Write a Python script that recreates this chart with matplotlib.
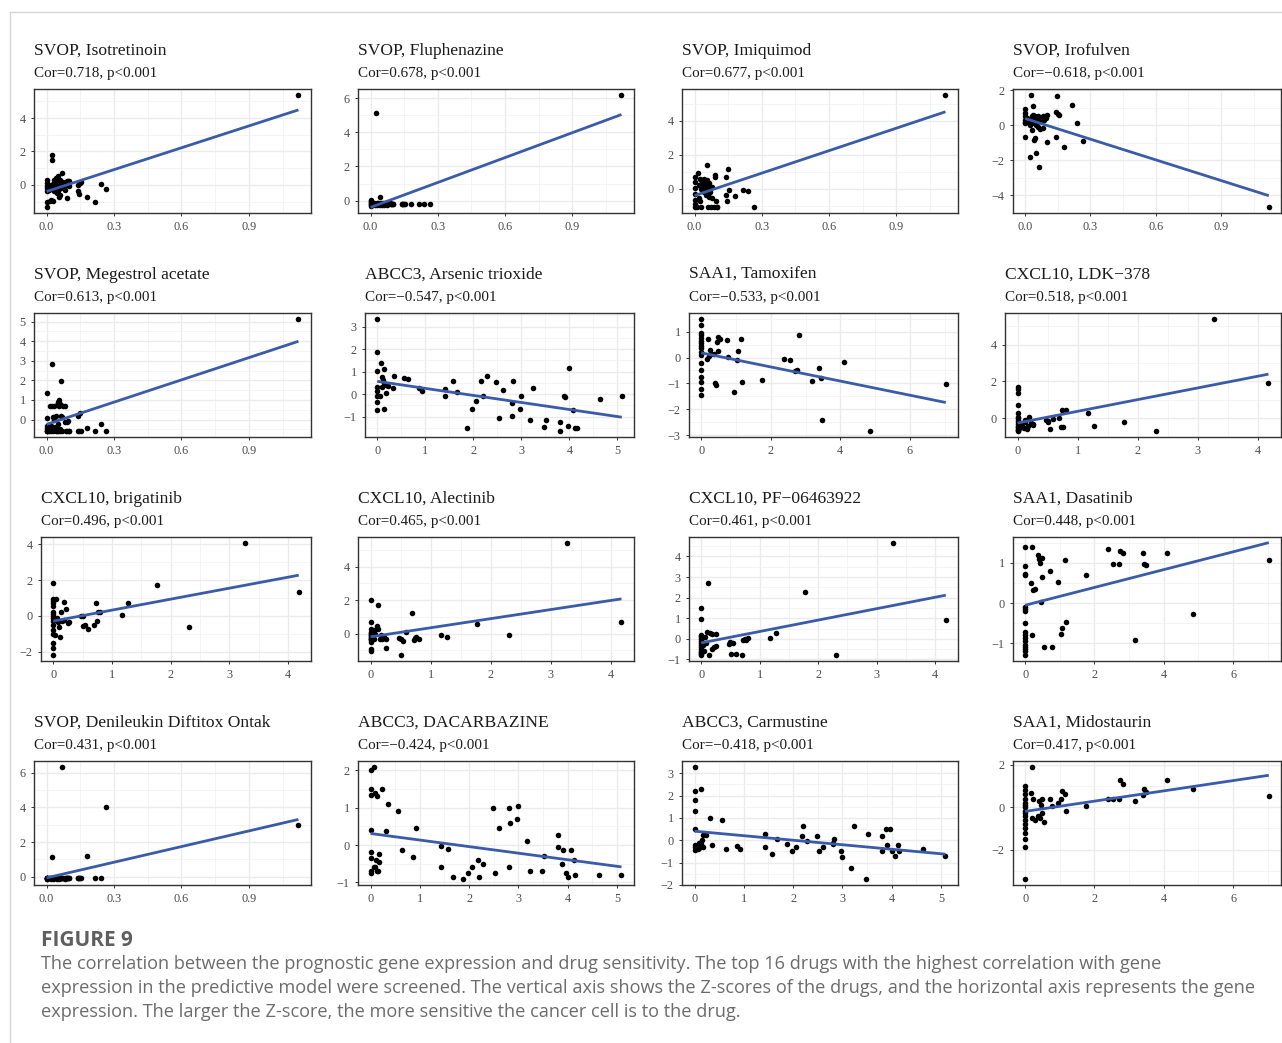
import numpy as np
import matplotlib
matplotlib.use('Agg')
import matplotlib.pyplot as plt
from matplotlib.lines import Line2D
from matplotlib.ticker import FixedLocator, AutoMinorLocator, FormatStrFormatter

# gene expression (x) shared by every drug of the same gene
svop_x = [0, 0, 0, 0, 0, 0, 0, 0.01, 0.015, 0.02, 0.02, 0.025, 0.025, 0.03, 0.03, 0.03,
          0.035, 0.035, 0.04, 0.04, 0.04, 0.045, 0.045, 0.05, 0.05, 0.05, 0.055, 0.055,
          0.06, 0.06, 0.06, 0.065, 0.065, 0.07, 0.07, 0.075, 0.08, 0.08, 0.085, 0.09, 0.09,
          0.095, 0.1, 0.1, 0.14, 0.14, 0.145, 0.15, 0.155, 0.18, 0.215, 0.24, 0.265, 1.12]
abcc3_x = [0, 0, 0, 0, 0, 0, 0, 0, 0.07, 0.14, 0.09, 0.12, 0.1, 0.15, 0.18,
           0.06, 0.14, 0.18, 0.23, 0.32, 0.35, 0.56, 0.64, 0.86, 0.93,
           1.42, 1.42, 1.58, 1.67, 1.87, 1.98, 2.06, 2.17, 2.2, 2.28,
           2.48, 2.53, 2.61, 2.81, 2.82, 2.8, 2.97, 2.99, 3.18, 3.24,
           3.47, 3.52, 3.8, 3.81, 3.88, 3.9, 3.97, 4.0, 4.07, 4.12, 4.15, 4.64, 5.09]
cxcl10_x = [0] * 16 + [0.02, 0.03, 0.05, 0.06, 0.08, 0.1, 0.12, 0.13, 0.15, 0.18, 0.19, 0.22,
                       0.25, 0.26, 0.48, 0.5, 0.51, 0.54, 0.59, 0.69, 0.72, 0.74, 0.76, 0.8,
                       1.17, 1.27, 1.77, 2.31, 3.27, 4.18]
saa1_x = [0] * 17 + [0.16, 0.19, 0.21, 0.24, 0.29, 0.38, 0.41, 0.42, 0.45, 0.48, 0.48, 0.54,
                     0.73, 0.78, 0.94, 1.03, 1.06, 1.15, 1.17, 1.76, 2.39, 2.54, 2.71, 2.74,
                     2.81, 3.18, 3.39, 3.44, 3.48, 4.1, 4.85, 7.03]

# drug sensitivity z-scores (y)
isotretinoin = [0.3, -0.1, -0.4, -1.05, -1.35, 0.1, -0.2, -0.3, -0.95, 0.0, -0.9, 1.8, 1.5, -0.2,
                0.05, -0.95, 0.3, -0.4, 0.1, -0.3, 0.4, -0.1, -0.5, 0.5, 0.0, -0.35, 0.2, -0.7,
                -0.1, 0.3, -0.6, -0.2, 0.1, 0.7, -0.05, 0.15, -0.3, 0.1, 0.0, -0.8, 0.2, 0.25,
                -0.1, 0.2, -0.35, 0.0, -0.55, 0.1, 0.15, -0.75, -1.0, 0.05, -0.25, 5.4]
fluphenazine = [0.05, -0.1, -0.2, -0.25, -0.15, 0.0, -0.3, -0.2, -0.15, -0.25, -0.2, 5.15, -0.2,
                -0.15, -0.25, -0.2, -0.2, -0.15, 0.2, -0.2, -0.25, -0.2, -0.15, -0.2, -0.25, -0.2,
                -0.2, -0.15, -0.2, -0.25, -0.2, -0.2, -0.15, -0.2, -0.2, -0.25, -0.2, -0.2, -0.15,
                -0.2, -0.2, -0.2, -0.2, -0.2, -0.2, -0.2, -0.2, -0.2, -0.2, -0.2, -0.2, -0.2, -0.2, 6.2]
imiquimod = [0.7, 0.05, -0.65, -1.1, -0.3, 0.4, -0.9, -1.1, 0.95, -0.55, 0.2, -0.7, 0.6, 0.3, -1.1,
             0.0, 0.5, 0.1, -0.2, 0.6, 0.2, -0.1, 0.4, 0.0, 0.3, -0.4, 1.4, 0.5, -1.1, -0.2, 0.1,
             0.35, -0.5, -0.2, 0.05, -1.1, 0.1, -0.55, -1.1, 0.8, 0.7, -0.75, -1.1, -1.05, -0.35,
             0.7, -0.7, 1.15, -0.1, -0.45, -0.05, -0.15, -1.1, 5.55]
irofulven = [0.95, 0.7, -0.65, 0.3, 0.1, 0.5, 0.2, 0.4, 0.2, 0.0, -1.8, 1.75, 0.3, 0.5, -0.3, 0.1,
             1.1, 0.6, -0.85, 0.4, 0.2, -0.75, 0.5, -1.6, 0.3, 0.0, 0.45, 0.2, 0.35, -0.1, 0.5,
             -2.4, 0.25, 0.4, -0.2, 0.3, 0.5, -0.15, 0.3, 0.45, 0.55, 0.4, 0.6, -0.95, -0.65,
             0.75, 1.7, 0.62, 0.6, -1.25, 1.15, 0.15, -0.9, -4.7]
megestrol = [1.35, 0.1, -0.35, -0.6, -0.6, -0.45, -0.6, -0.6, 0.7, -0.35, -0.6, 2.85, 0.7, -0.4,
             0.15, -0.6, 0.0, 0.7, 0.2, -0.6, -0.4, 0.75, -0.6, 0.9, -0.2, -0.6, 1.0, 0.7, 0.8,
             -0.6, -0.5, 1.95, 0.2, 0.15, -0.6, 0.7, 0.7, -0.1, -0.6, -0.1, -0.6, -0.05, -0.6,
             -0.6, -0.6, 0.2, -0.6, 0.35, -0.6, -0.45, -0.6, -0.2, -0.6, 5.15]
denileukin = [-0.1, -0.15, -0.05, -0.1, -0.15, -0.1, -0.05, -0.1, -0.1, -0.15, -0.1, 1.15, -0.1,
              -0.05, -0.1, -0.15, -0.1, -0.1, -0.05, -0.1, -0.1, -0.15, -0.1, -0.1, -0.05, -0.1,
              -0.1, -0.15, -0.1, -0.1, -0.05, -0.1, -0.1, 6.35, -0.1, -0.1, -0.15, -0.1, -0.1,
              -0.05, -0.1, -0.1, -0.1, -0.1, -0.1, -0.1, -0.1, -0.1, -0.1, 1.2, -0.1, -0.1, 4.0, 3.0]

arsenic = [3.35, 1.85, 1.03, 0.33, 0.16, -0.06, -0.35, -0.7, 1.4, 1.1, 0.75, 0.65, 0.33, 0.48, 0.4,
           -0.1, -0.65, 0.07, 0.38, 0.26, 0.81, 0.72, 0.67, 0.29, 0.14,
           0.23, -0.1, 0.59, 0.09, -1.52, -0.65, -0.32, 0.59, -0.1, 0.81,
           0.55, -1.06, 0.19, -0.97, 0.59, -0.39, -0.64, -0.1, -1.14, 0.29,
           -1.45, -1.16, -1.22, -1.65, -0.07, -0.14, -1.39, 1.15, -0.71, -1.52, -1.49, -0.2, -0.06]
dacarbazine = [2.0, 1.5, 1.35, 0.4, -0.2, -0.35, -0.7, -0.75, 2.1, 1.3, -0.6, -0.4, 1.4, -0.7, -0.25,
               -0.6, -0.7, -0.45, 1.5, 0.37, 1.1, 0.92, -0.13, -0.33, 0.45,
               -0.6, -0.03, -0.1, -0.87, -0.92, -0.74, -0.6, -0.4, -0.85, -0.5,
               1.0, -0.74, 0.45, 1.0, 0.6, -0.6, 0.7, 1.05, 0.1, -0.7,
               -0.7, -0.3, 0.26, -0.05, -0.52, -0.13, -0.74, -0.87, -0.13, -0.4, -0.8, -0.79, -0.79]
carmustine = [3.3, 2.2, 1.8, 1.3, 0.5, -0.2, -0.3, -0.45, -0.2, 2.3, -0.35, -0.25, -0.1, 0.0, -0.3,
              -0.4, -0.15, 0.25, 0.25, 1.0, -0.2, 0.9, -0.4, -0.25, -0.4,
              0.26, -0.3, -0.6, 0.05, -0.15, -0.5, -0.3, 0.2, 0.65, -0.05,
              0.2, -0.5, -0.3, -0.15, 0.05, -0.1, -0.5, -0.75, -1.25, 0.65,
              -1.75, 0.3, -0.5, 0.2, 0.5, -0.2, 0.5, -0.5, -0.7, -0.2, -0.5, -0.4, -0.7]

ldk378 = [1.7, 1.6, 1.4, 0.7, 0.3, 0.1, 0.0, -0.1, -0.2, -0.3, -0.4, -0.45, -0.5, -0.6, -0.65, -0.7,
          -0.4, -0.5, -0.3, -0.45, -0.35, -0.5, -0.07, -0.2, -0.55, -0.4, 0.1, -0.25, -0.34, -0.3,
          -0.1, -0.2, -0.15, -0.59, -0.02, 0.0, -0.46, 0.43, -0.46, 0.48,
          0.29, -0.43, -0.21, -0.68, 5.4, 1.9]
brigatinib = [1.85, 0.95, 0.85, 0.7, 0.55, 0.2, 0.0, -0.1, -0.3, -0.5, -0.8, -1.0, -1.5, -1.8, -2.2, 0.1,
              -0.2, -1.05, 0.95, -0.1, -0.35, -0.6, -1.2, 0.2, -0.3, 0.8, -0.2, 0.4, -0.4, -0.35,
              0.0, -0.55, 0.0, -0.5, -0.75, -0.5, 0.7, -0.3, 0.2, 0.2,
              0.05, 0.7, 1.75, -0.6, 4.1, 1.35]
alectinib = [2.0, 0.68, 0.25, 0.1, 0.0, -0.1, -0.2, -0.3, -0.4, -0.5, -0.9, -1.05, -0.15, 0.05, -0.35, -0.25,
             0.1, -0.2, 0.2, -0.3, 0.0, 0.45, 1.7, 0.25, -0.35, -0.1, -0.3, -0.2, -0.88, -0.3,
             -0.25, -0.35, -1.3, -0.45, 0.1, 1.25, -0.4, -0.25, -0.2, -0.35,
             -0.1, -0.18, 0.57, -0.1, 5.43, 0.67]
pf06463922 = [1.48, 0.98, 0.2, 0.1, 0.0, -0.1, -0.2, -0.3, -0.5, -0.6, -0.7, -0.8, 0.15, -0.4, -0.65, -0.75,
              0.05, -0.3, -0.6, 0.1, -0.2, 0.35, 2.7, -0.78, 0.3, -0.5, 0.25, -0.4, -0.35, 0.25,
              -0.25, -0.15, -0.72, -0.2, -0.75, -0.78, -0.05, 0.0, -0.05, 0.05,
              0.02, 0.3, 2.28, -0.78, 4.67, 0.9]

tamoxifen = [1.5, 1.25, 0.95, 0.85, 0.75, 0.65, 0.55, 0.45, 0.35, 0.2, 0.1, -0.2, -0.5, -0.75, -0.95, -1.2, -1.45,
             -0.06, 0.72, 0.05, 0.28, 0.13, 0.13, -0.97, -1.05, 0.6, 0.8, 0.25, 0.73,
             0.67, 0.03, -1.35, -0.1, 0.25, 0.72, -0.93, -0.85, -0.06, -0.1, -0.53, -0.47,
             0.86, -0.91, -0.42, -0.8, -2.4, -0.19, -2.85, -1.01]
dasatinib = [1.4, 0.92, 0.72, 0.7, -0.1, -0.15, -0.2, -0.5, -0.72, -0.8, -0.88, -0.95, -1.05, -1.1, -1.15, -1.2, -1.3,
             0.5, 1.4, -0.8, 0.33, 0.36, 1.2, 1.1, 1.0, 0.03, 1.12, 0.66, -1.08,
             0.8, -1.1, 0.53, -0.78, -0.63, 1.07, -0.48, 0.71, 1.34, 0.98, 0.98, 1.3,
             1.26, -0.91, 1.25, 0.98, 0.96, 1.25, -0.28, 1.07]
midostaurin = [1.0, 0.8, 0.6, 0.4, 0.2, 0.0, -0.2, -0.4, -0.6, -0.8, -1.0, -1.2, -1.5, -1.9, -3.4, 0.1, -0.3,
               0.65, 1.9, -0.5, 0.4, -0.6, -0.4, 0.3, -0.5, 0.1, 0.4, -0.3, -0.7,
               0.4, 0.05, 0.2, 0.4, 0.75, 0.6, -0.2, 0.05, 0.4, 0.4, 0.4, 1.25,
               1.1, 0.3, 0.55, 0.85, 0.7, 1.25, 0.85, 0.5]

titles = ['SVOP, Isotretinoin', 'SVOP, Fluphenazine', 'SVOP, Imiquimod', 'SVOP, Irofulven',
          'SVOP, Megestrol acetate', 'ABCC3, Arsenic trioxide', 'SAA1, Tamoxifen', 'CXCL10, LDK\u2212378',
          'CXCL10, brigatinib', 'CXCL10, Alectinib', 'CXCL10, PF\u221206463922', 'SAA1, Dasatinib',
          'SVOP, Denileukin Diftitox Ontak', 'ABCC3, DACARBAZINE', 'ABCC3, Carmustine', 'SAA1, Midostaurin']
cors = ['0.718', '0.678', '0.677', '\u22120.618', '0.613', '\u22120.547', '\u22120.533', '0.518',
        '0.496', '0.465', '0.461', '0.448', '0.431', '\u22120.424', '\u22120.418', '0.417']
xs = [svop_x, svop_x, svop_x, svop_x, svop_x, abcc3_x, saa1_x, cxcl10_x,
      cxcl10_x, cxcl10_x, cxcl10_x, saa1_x, svop_x, abcc3_x, abcc3_x, saa1_x]
ys = [isotretinoin, fluphenazine, imiquimod, irofulven, megestrol, arsenic, tamoxifen, ldk378,
      brigatinib, alectinib, pf06463922, dasatinib, denileukin, dacarbazine, carmustine, midostaurin]
yticks = [[0, 2, 4], [0, 2, 4, 6], [0, 2, 4], [-4, -2, 0, 2], [0, 1, 2, 3, 4, 5], [-1, 0, 1, 2, 3],
          [-3, -2, -1, 0, 1], [0, 2, 4], [-2, 0, 2, 4], [0, 2, 4], [-1, 0, 1, 2, 3, 4], [-1, 0, 1],
          [0, 2, 4, 6], [-1, 0, 1, 2], [-2, -1, 0, 1, 2, 3], [-2, 0, 2]]

caption_head = 'FIGURE 9'
caption_lines = ['The correlation between the prognostic gene expression and drug sensitivity. The top 16 drugs with the highest correlation with gene',
                 'expression in the predictive model were screened. The vertical axis shows the Z-scores of the drugs, and the horizontal axis represents the gene',
                 'expression. The larger the Z-score, the more sensitive the cancer cell is to the drug.']

W, H = 1282, 1043
# panel boxes in pixels: left, right
cols = [[(34, 311), (358, 634), (682, 958), (1013, 1281)],
        [(34, 311), (365, 634), (689, 958), (1005, 1281)],
        [(41, 311), (358, 634), (689, 958), (1013, 1281)],
        [(34, 311), (358, 634), (682, 958), (1013, 1281)]]
tops = [89, 313, 537, 761]
ph = 124

plt.rcParams['font.family'] = ['Liberation Serif', 'DejaVu Serif']

fig = plt.figure(figsize=(W / 100, H / 100), dpi=100)
fig.patch.set_facecolor('white')

# light frame of the journal page
fig.add_artist(Line2D([10 / W, 1], [1 - 12 / H, 1 - 12 / H], color='#d6d6d6', lw=1.0))
fig.add_artist(Line2D([10 / W, 10 / W], [0, 1 - 12 / H], color='#d6d6d6', lw=1.0))

for k in range(16):
    r, c = divmod(k, 4)
    l, rr = cols[r][c]
    t = tops[r]
    ax = fig.add_axes([l / W, 1 - (t + ph) / H, (rr - l) / W, ph / H])
    x = np.array(xs[k], dtype=float)
    y = np.array(ys[k], dtype=float)

    ax.scatter(x, y, s=16, color='black', zorder=3, linewidths=0)
    b1, b0 = np.polyfit(x, y, 1)
    xl = np.array([x.min(), x.max()])
    ax.plot(xl, b0 + b1 * xl, color='#3A5BA8', lw=2.0, zorder=4, solid_capstyle='butt')
    ax.margins(0.05)

    if xs[k] is svop_x:
        ax.xaxis.set_major_locator(FixedLocator([0, 0.3, 0.6, 0.9]))
        ax.xaxis.set_major_formatter(FormatStrFormatter('%.1f'))
    elif xs[k] is saa1_x:
        ax.xaxis.set_major_locator(FixedLocator([0, 2, 4, 6]))
    elif xs[k] is abcc3_x:
        ax.xaxis.set_major_locator(FixedLocator([0, 1, 2, 3, 4, 5]))
    else:
        ax.xaxis.set_major_locator(FixedLocator([0, 1, 2, 3, 4]))
    ax.yaxis.set_major_locator(FixedLocator(yticks[k]))
    ax.xaxis.set_minor_locator(AutoMinorLocator(2))
    ax.yaxis.set_minor_locator(AutoMinorLocator(2))

    ax.grid(which='major', color='#ebebeb', lw=1.0, zorder=0)
    ax.grid(which='minor', color='#f2f2f2', lw=0.6, zorder=0)
    ax.set_axisbelow(True)
    for s in ax.spines.values():
        s.set_color('#333333')
        s.set_linewidth(1.0)
    ax.tick_params(which='major', length=2.5, width=0.7, color='#333333',
                   labelsize=8.8, labelcolor='#4d4d4d', pad=3.5)
    ax.tick_params(which='minor', length=0)

    fig.text(l / W, 1 - (t - 38) / H, titles[k], fontsize=12.6, color='#1a1a1a', va='center', ha='left')
    fig.text(l / W, 1 - (t - 15) / H, 'Cor=' + cors[k] + ', p<0.001', fontsize=10.9,
             color='#1a1a1a', va='center', ha='left')

fig.text(41 / W, 1 - 940 / H, caption_head, fontsize=15, fontweight='bold', color='#5f5f5f',
         family=['Open Sans', 'DejaVu Sans'], va='center', ha='left')
for i, line in enumerate(caption_lines):
    fig.text(41 / W, 1 - (964 + 24 * i) / H, line, fontsize=13.1, color='#6b6b6b',
             family=['Open Sans', 'DejaVu Sans'], va='center', ha='left')

plt.savefig('out.png', dpi=100, facecolor='white')
